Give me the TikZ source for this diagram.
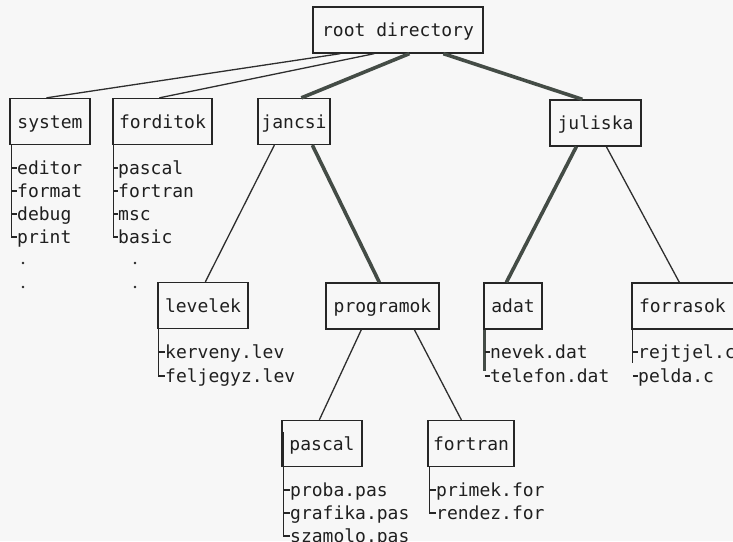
\documentclass[tikz,border=0pt]{standalone}
\usepackage{fontspec}
\setmonofont{DejaVu Sans Mono}
\definecolor{thickc}{RGB}{68,76,70}
\begin{document}
\begin{tikzpicture}[x=1pt,y=-1pt,
  txt/.style={font=\ttfamily\fontsize{18}{20}\selectfont, text=black!88, text height=15pt, text depth=2pt},
  dirbox/.style={txt, draw=black!85, line width=1.3pt, minimum height=46pt, inner sep=0pt},
  item/.style={txt, anchor=west, inner sep=0pt},
  thin/.style={draw=black!82, line width=1.3pt},
  thick/.style={draw=thickc, line width=3.6pt},
  list/.style={draw=black!85, line width=1.2pt},
  dot/.style={fill=black!85, circle, inner sep=0pt, minimum size=2.6pt}]
\fill[black!3] (0,0) rectangle (733,541);
\useasboundingbox (0,0) rectangle (733,541);
\begin{scope}
\clip (0,0) rectangle (733,541);
% directory boxes
\node[dirbox, minimum width=170pt] (root) at (398,30) {root directory};
\node[dirbox, minimum width=80pt] (system) at (50,121.5) {system};
\node[dirbox, minimum width=99pt] (forditok) at (162.5,121.5) {forditok};
\node[dirbox, minimum width=72pt] (jancsi) at (294,121.5) {jancsi};
\node[dirbox, minimum width=91pt] (juliska) at (595.5,123) {juliska};
\node[dirbox, minimum width=90pt] (levelek) at (203,305.5) {levelek};
\node[dirbox, minimum width=113pt] (programok) at (382.5,306) {programok};
\node[dirbox, minimum width=58pt] (adat) at (513,306) {adat};
\node[dirbox, minimum width=110pt, text width=96pt, align=left] (forrasok) at (687,306) {forrasok};
\node[dirbox, minimum width=80pt] (pascal) at (322,443.5) {pascal};
\node[dirbox, minimum width=86pt] (fortran) at (471,443.5) {fortran};

% connectors
\draw[thin] ([xshift=28pt]root.south west) -- ([xshift=37pt]system.north west);
\draw[thin] ([xshift=62pt]root.south west) -- ([xshift=47pt]forditok.north west);
\draw[thick] ([xshift=97pt]root.south west) -- ([xshift=44pt]jancsi.north west);
\draw[thick] ([xshift=131pt]root.south west) -- ([xshift=33pt]juliska.north west);
\draw[thin] ([xshift=17pt]jancsi.south west) -- ([xshift=48pt]levelek.north west);
\draw[thick] ([xshift=55pt]jancsi.south west) -- ([xshift=54pt]programok.north west);
\draw[thick] ([xshift=27pt]juliska.south west) -- ([xshift=23pt]adat.north west);
\draw[thin] ([xshift=57pt]juliska.south west) -- ([xshift=48pt]forrasok.north west);
\draw[thin] ([xshift=36pt]programok.south west) -- ([xshift=38pt]pascal.north west);
\draw[thin] ([xshift=89pt]programok.south west) -- ([xshift=34pt]fortran.north west);

% file lists
% system
\node[item] (s1) at (17,168) {editor};
\node[item] (s2) at (17,191) {format};
\node[item] (s3) at (17,214) {debug};
\node[item] (s4) at (17,237) {print};
\coordinate (sx) at ([xshift=2pt]system.south west);
\draw[list] (sx) |- (s4.west);
\foreach \i in {s1,s2,s3} \draw[list] (\i.west -| sx) -- (\i.west);
\node[dot] (sd1) at (23,263) {};
\node[dot] (sd2) at (23,287) {};
% forditok
\node[item] (f1) at (118,168) {pascal};
\node[item] (f2) at (118,191) {fortran};
\node[item] (f3) at (118,214) {msc};
\node[item] (f4) at (118,237) {basic};
\coordinate (fx) at ([xshift=1.5pt]forditok.south west);
\draw[list] (fx) |- (f4.west);
\foreach \i in {f1,f2,f3} \draw[list] (\i.west -| fx) -- (\i.west);
\node[dot] (fd1) at (135,263) {};
\node[dot] (fd2) at (135,287) {};
% levelek
\node[item] (l1) at (165,352) {kerveny.lev};
\node[item] (l2) at (165,376) {feljegyz.lev};
\coordinate (lx) at ([xshift=1.5pt]levelek.south west);
\draw[list] (lx) |- (l2.west);
\draw[list] (l1.west -| lx) -- (l1.west);
% adat
\node[item] (a1) at (490,352) {nevek.dat};
\node[item] (a2) at (490,376) {telefon.dat};
\coordinate (ax) at ([xshift=1.5pt]adat.south west);
\draw[thick, line width=3pt] (ax) -- ([yshift=5pt]a2.west -| ax);
\foreach \i in {a1,a2} \draw[list] (\i.west -| ax) -- (\i.west);
% forrasok
\node[item] (r1) at (638,352) {rejtjel.c};
\node[item] (r2) at (638,376) {pelda.c};
\coordinate (rx) at ([xshift=1.5pt]forrasok.south west);
\draw[list] (rx) -- ([yshift=13pt]r2.west -| rx);
\foreach \i in {r1,r2} \draw[list] (\i.west -| rx) -- (\i.west);
% pascal
\node[item] (p1) at (290,490) {proba.pas};
\node[item] (p2) at (290,513) {grafika.pas};
\node[item] (p3) at (290,536) {szamolo.pas};
\coordinate (px) at ([xshift=2pt]pascal.south west);
\draw[list] ([yshift=-12pt]pascal.north west -| px) |- (p3.west);
\foreach \i in {p1,p2} \draw[list] (\i.west -| px) -- (\i.west);
% fortran
\node[item] (o1) at (436,490) {primek.for};
\node[item] (o2) at (436,513) {rendez.for};
\coordinate (ox) at ([xshift=2pt]fortran.south west);
\draw[list] (ox) |- (o2.west);
\draw[list] (o1.west -| ox) -- (o1.west);
\end{scope}
\end{tikzpicture}
\end{document}
